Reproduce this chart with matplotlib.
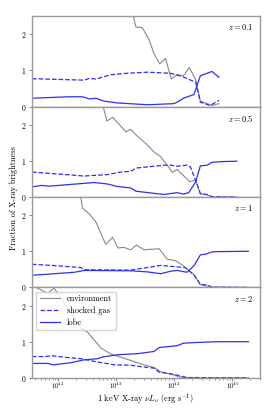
import numpy as np
import matplotlib
matplotlib.use("Agg")
import matplotlib.pyplot as plt

plt.rcParams['font.family'] = 'cmr10'
plt.rcParams['mathtext.fontset'] = 'cm'
plt.rcParams['axes.formatter.use_mathtext'] = True

# redshift labels of the panels
redshifts = ['0.1', '0.5', '1', '2']

# --- z = 0.1 ---
env_x_01 = [43.28, 43.34, 43.45, 43.57, 43.65, 43.75, 43.85, 43.95, 44.05, 44.16, 44.26, 44.37, 44.45, 44.65, 44.77]
env_y_01 = [2.6, 2.2, 2.18, 1.84, 1.47, 1.18, 1.33, 0.76, 0.88, 0.85, 1.08, 0.74, 0.15, 0.03, 0.08]
shk_x_01 = [41.55, 42.45, 42.54, 42.65, 42.91, 43.19, 43.54, 43.94, 44.14, 44.37, 44.45, 44.62, 44.77]
shk_y_01 = [0.77, 0.73, 0.78, 0.76, 0.88, 0.92, 0.95, 0.92, 0.83, 0.67, 0.12, 0.03, 0.17]
lobe_x_01 = [41.55, 42.17, 42.42, 42.54, 42.65, 42.79, 43.02, 43.54, 43.99, 44.05, 44.17, 44.34, 44.45, 44.65, 44.77]
lobe_y_01 = [0.23, 0.27, 0.27, 0.21, 0.23, 0.15, 0.10, 0.05, 0.08, 0.12, 0.24, 0.33, 0.85, 0.97, 0.81]

# --- z = 0.5 ---
env_x_05 = [42.76, 42.84, 42.94, 43.17, 43.25, 43.37, 43.51, 43.65, 43.77, 43.97, 44.05, 44.27, 44.37, 44.45, 44.57, 44.65, 45.08]
env_y_05 = [2.6, 2.1, 2.2, 1.8, 1.87, 1.67, 1.48, 1.25, 1.11, 0.68, 0.76, 0.42, 0.47, 0.09, 0.06, 0.0, 0.0]
shk_x_05 = [41.55, 41.88, 42.45, 42.85, 43.08, 43.25, 43.34, 43.59, 43.82, 43.94, 44.05, 44.22, 44.28, 44.40, 44.45, 44.57, 44.65, 45.08]
shk_y_05 = [0.69, 0.65, 0.58, 0.62, 0.69, 0.71, 0.80, 0.84, 0.88, 0.88, 0.85, 0.88, 0.83, 0.32, 0.09, 0.07, 0.01, 0.0]
lobe_x_05 = [41.55, 41.71, 41.85, 42.62, 42.85, 43.02, 43.25, 43.34, 43.82, 44.05, 44.16, 44.25, 44.37, 44.45, 44.57, 44.65, 44.85, 45.08]
lobe_y_05 = [0.28, 0.32, 0.30, 0.40, 0.36, 0.29, 0.25, 0.16, 0.07, 0.12, 0.08, 0.12, 0.42, 0.86, 0.88, 0.96, 0.98, 0.99]

# --- z = 1 ---
env_x_1 = [42.38, 42.42, 42.54, 42.65, 42.82, 42.94, 43.03, 43.13, 43.25, 43.35, 43.48, 43.74, 43.88, 44.02, 44.14, 44.34, 44.45, 44.65, 45.28]
env_y_1 = [2.6, 2.19, 2.03, 1.81, 1.19, 1.39, 1.09, 1.11, 1.04, 1.17, 1.04, 1.07, 0.78, 0.74, 0.62, 0.35, 0.08, 0.01, 0.0]
shk_x_1 = [41.55, 41.88, 42.39, 42.45, 43.25, 43.54, 43.77, 44.05, 44.19, 44.34, 44.45, 44.57, 44.65, 45.28]
shk_y_1 = [0.64, 0.61, 0.55, 0.49, 0.48, 0.55, 0.61, 0.57, 0.55, 0.35, 0.08, 0.07, 0.01, 0.0]
lobe_x_1 = [41.55, 41.77, 42.28, 42.45, 43.25, 43.54, 43.77, 43.94, 44.05, 44.22, 44.34, 44.45, 44.54, 44.65, 44.74, 45.28]
lobe_y_1 = [0.34, 0.36, 0.42, 0.47, 0.46, 0.43, 0.38, 0.45, 0.47, 0.42, 0.60, 0.90, 0.92, 0.98, 0.99, 1.0]

# --- z = 2 ---
env_x_2 = [41.55, 41.62, 41.82, 41.93, 42.02, 42.39, 42.51, 42.74, 42.91, 43.14, 43.31, 43.48, 43.65, 43.77, 43.99, 44.11, 44.4, 45.28]
env_y_2 = [2.6, 2.5, 2.34, 2.48, 2.27, 1.38, 1.26, 0.82, 0.66, 0.54, 0.45, 0.36, 0.29, 0.17, 0.08, 0.02, 0.0, 0.0]
shk_x_2 = [41.55, 41.77, 41.91, 42.11, 42.39, 42.68, 42.97, 43.25, 43.48, 43.65, 43.74, 43.99, 44.14, 44.22, 45.28]
shk_y_2 = [0.59, 0.59, 0.61, 0.57, 0.53, 0.44, 0.36, 0.35, 0.30, 0.27, 0.16, 0.10, 0.04, 0.01, 0.0]
lobe_x_2 = [41.55, 41.83, 41.91, 42.22, 42.45, 42.68, 42.77, 43.03, 43.37, 43.65, 43.74, 44.05, 44.16, 44.40, 44.74, 45.28]
lobe_y_2 = [0.40, 0.40, 0.36, 0.42, 0.50, 0.53, 0.58, 0.64, 0.67, 0.73, 0.84, 0.89, 0.96, 0.98, 1.0, 1.0]

panels = [
    (env_x_01, env_y_01, shk_x_01, shk_y_01, lobe_x_01, lobe_y_01),
    (env_x_05, env_y_05, shk_x_05, shk_y_05, lobe_x_05, lobe_y_05),
    (env_x_1, env_y_1, shk_x_1, shk_y_1, lobe_x_1, lobe_y_1),
    (env_x_2, env_y_2, shk_x_2, shk_y_2, lobe_x_2, lobe_y_2),
]

fig, axes = plt.subplots(4, 1, sharex=True, figsize=(2.69, 4.13), dpi=100)
fig.subplots_adjust(left=0.119, right=0.967, top=0.961, bottom=0.085, hspace=0)

blue = '#3030f0'
for ax, z, (ex, ey, sx, sy, lx, ly) in zip(axes, redshifts, panels):
    ax.plot(10**np.array(ex), ey, color='#888888', lw=0.8, label='environment')
    ax.plot(10**np.array(sx), sy, color=blue, lw=0.9, ls='--', label='shocked gas')
    ax.plot(10**np.array(lx), ly, color=blue, lw=0.9, label='lobe')
    ax.set_xscale('log')
    ax.set_xlim(10**41.55, 10**45.48)
    ax.set_ylim(0, 2.5)
    ax.set_yticks([0, 1, 2])
    ax.text(0.97, 0.93, '$z = %s$' % z, transform=ax.transAxes, ha='right', va='top', fontsize=6)
    for s in ax.spines.values():
        s.set_color('#999999')
        s.set_linewidth(1.0)
    ax.tick_params(axis='y', labelsize=5.5, length=2.5, width=0.5, color='#555555', pad=1.5)
    ax.tick_params(axis='x', labelsize=4.8, length=2, width=0.5, color='#555555', pad=0)
    ax.tick_params(which='minor', length=1.5, width=0.4, color='#555555')

axes[-1].legend(loc='upper left', fontsize=6, frameon=True, fancybox=False,
                edgecolor='#cccccc', handlelength=2.5, borderpad=0.4, labelspacing=0.4)
axes[-1].set_xticks([1e42, 1e43, 1e44, 1e45])
fig.text(0.54, 0.035, r'1 keV X-ray $\nu L_\nu$ (erg s$^{-1}$)', ha='center', va='center', fontsize=6)
fig.text(0.052, 0.52, 'Fraction of X-ray brightness', rotation=90, ha='center', va='center', fontsize=6)

fig.savefig('out.png', dpi=100)
